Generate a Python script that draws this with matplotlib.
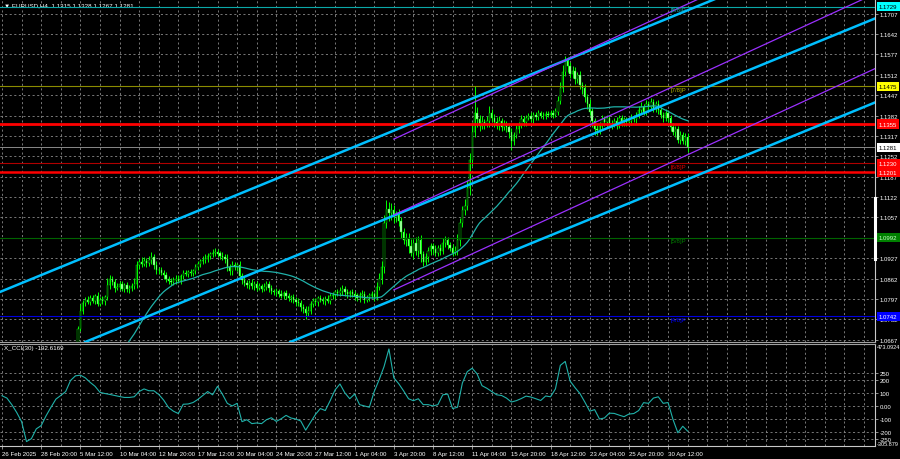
import matplotlib
matplotlib.use("Agg")
import matplotlib.pyplot as plt
import matplotlib.transforms as mtransforms
from matplotlib.ticker import MultipleLocator
import numpy as np
import pandas as pd

plt.rcParams["font.family"] = ["Liberation Sans", "DejaVu Sans"]

# EURUSD H4, first bar 26 Feb 2025 04:00 - closes in pips above 1.0000
close_pips = """
488 492 485 478 484 480 470 460 445 415
402 398 392 386 395 380 375 395 410 430
440 482 486 490 500 522 560 605 620 622
632 702 760 785 795 788 800 792 805 782
795 790 802 840 862 850 832 835 845 830
840 828 832 838 845 905 915 910 918 912
920 930 905 890 888 880 872 862 855 852
858 862 855 870 880 878 882 880 885 900
910 918 922 925 935 940 945 948 942 935
930 925 900 885 905 898 905 870 858 848
840 848 838 845 832 838 830 835 845 832
822 818 822 812 808 815 806 800 802 795
788 785 772 765 752 760 780 790 788 800
795 790 798 792 805 810 818 815 822 830
818 812 818 812 808 800 810 812 795 802
808 812 802 835 860 900 1040 1085 1070 1080
1060 1065 1045 1010 985 990 965 945 975 950
985 940 915 930 950 965 955 945 960 950
975 985 970 960 945 950 985 1040 1080 1095
1150 1240 1330 1390 1370 1350 1360 1355 1365 1390
1375 1360 1350 1365 1345 1355 1345 1330 1300 1320
1340 1350 1370 1360 1375 1380 1370 1385 1378 1390
1382 1380 1388 1385 1390 1385 1395 1430 1470 1520
1555 1540 1515 1525 1500 1510 1480 1470 1440 1420
1395 1365 1340 1335 1350 1370 1360 1375 1350 1355
1365 1350 1375 1360 1370 1360 1365 1375 1370 1385
1400 1410 1395 1420 1410 1425 1405 1420 1400 1385
1375 1390 1375 1345 1330 1340 1305 1320 1300 1315
1281
"""
# wick lengths above / below the body, pips
upper_wick_pips = """
6 8 5 7 6 9 5 8 6 10 8 6 7 9 5 8 6 10 12 8
9 7 10 8 12 15 10 8 9 6 12 8 20 10 8 12 9 10 8 15
7 10 9 24 12 8 10 12 8 10 9 12 8 10 18 14 10 15 12 9
14 18 10 12 8 10 9 12 8 10 8 10 12 8 9 10 7 12 8 10
9 8 12 14 10 8 12 10 8 9 12 10 15 8 14 10 8 12 10 9
10 8 12 9 8 10 7 12 8 10 9 8 10 7 12 8 10 9 7 10
8 12 9 10 8 14 12 10 9 8 10 9 8 12 10 9 8 12 14 10
9 10 8 12 10 8 9 12 10 8 9 10 8 15 20 18 25 27 20 22
18 14 20 15 12 16 18 22 14 20 12 15 10 14 12 10 12 14 10 12
15 12 10 9 12 15 18 14 12 20 25 22 30 86 18 15 20 12 15 22
14 12 18 15 10 12 9 14 12 10 12 10 14 12 9 10 12 8 10 9
8 10 9 8 10 9 12 14 18 22 18 14 12 16 12 10 14 9 12 10
14 10 9 12 10 14 12 9 10 12 10 12 9 10 8 9 10 12 10 9
12 14 9 12 10 14 9 10 12 10 9 12 10 9 12 10 8 12 9 10
13
"""
lower_wick_pips = """
7 6 8 5 9 6 8 7 10 12 9 8 12 7 10 8 9 6 8 10
7 9 6 10 8 12 9 8 10 7 10 15 8 12 9 8 10 7 12 9
8 10 12 8 10 9 12 8 10 9 10 8 12 9 10 12 14 10 8 12
9 10 12 14 10 8 12 10 9 12 10 12 8 9 10 8 12 10 9 8
10 12 8 9 10 12 8 10 12 9 10 12 14 10 12 9 12 10 14 10
8 10 9 12 10 8 12 9 10 12 10 9 12 10 8 12 10 9 12 10
12 10 14 12 19 10 12 9 10 12 9 10 12 8 10 9 12 10 9 12
10 12 9 10 14 10 12 9 10 8 10 9 12 8 10 14 20 18 25 20
22 18 15 20 14 18 22 12 20 14 18 25 12 10 14 12 15 10 12 14
10 12 14 10 12 9 14 18 12 15 14 20 18 15 25 18 12 15 10 18
12 15 10 14 12 10 15 18 28 12 10 12 9 10 12 8 10 12 9 10
8 9 10 8 9 10 8 12 10 14 12 18 14 12 16 14 12 18 14 16
12 18 20 15 12 10 12 14 9 12 10 12 9 10 12 10 9 12 10 12
10 9 12 10 12 9 10 12 14 10 12 10 14 12 10 16 12 14 10 12
14
"""

# X_CCI(30), read every second bar
cci = [78, 60, 10, -50, -120, -272, -250, -175, -150, -75,
       -10, 52, 80, 110, 195, 230, 235, 215, 180, 150,
       104, 95, 88, 80, 72, 65, 65, 70, 110, 130,
       116, 116, 88, 45, -12, -40, -58, 13, 15, 26,
       50, 80, 110, 85, 150, 90, 20, 0, 20, -120,
       -105, -135, -130, -135, -105, -90, -118, -98, -72, -92,
       -100, -115, -185, -125, -65, -20, -35, 40, 122, 168,
       100, 55, 91, 10, 0, -10, 110, 200, 300, 435,
       215, 170, 115, 55, 40, 55, 10, 10, 0, 10,
       85, 91, -20, -10, 175, 262, 288, 245, 155, 135,
       110, 85, 80, 60, 30, 40, 56, 75, 68, 55,
       42, 76, 70, 130, 310, 340, 190, 140, 95, 30,
       -40, -28, -100, -92, -55, -57, -70, -82, -62, -58,
       -35, 25, 20, 60, 70, 20, 26, -103, -205, -155,
       -192.6169]
cci_range = (-305.879, 473.0924)

date_labels = ["26 Feb 2025", "28 Feb 20:00", "5 Mar 12:00", "10 Mar 04:00",
               "12 Mar 20:00", "17 Mar 12:00", "20 Mar 04:00", "24 Mar 20:00",
               "27 Mar 12:00", "1 Apr 04:00", "3 Apr 20:00", "8 Apr 12:00",
               "11 Apr 04:00", "15 Apr 20:00", "18 Apr 12:00", "23 Apr 04:00",
               "25 Apr 20:00", "30 Apr 12:00"]

price_ticks = [1.0667, 1.0732, 1.0797, 1.0862, 1.0927, 1.0992, 1.1057, 1.1122,
               1.1187, 1.1252, 1.1317, 1.1382, 1.1447, 1.1512, 1.1577, 1.1642, 1.1707]
cci_ticks = [250, 200, 100, 0, -100, -200, -250]
cci_tick_labels = ["250", "200", "100", "0.00", "-100", "-200", "-250"]

# horizontal levels on the chart
levels = [1.1729, 1.1475, 1.1355, 1.1281, 1.1230, 1.1201, 1.0992, 1.0742]
murrey_levels = [1.1729, 1.1475, 1.1230, 1.0992, 1.0742]
murrey_names = ["[8/8]P", "[7/8]P", "[6/8]P", "[5/8]P", "[4/8]P"]
murrey_bar = 273

# trend channels: (bar, price) anchors
cyan_bars = (0, 280)
cyan_prices = [(1.0822, 1.1718), (1.0551, 1.1447), (1.0283, 1.1179)]
purple_bars = (160, 280)
purple_prices = [(1.1307, 1.1738), (1.1065, 1.1496), (1.0826, 1.1257)]
scroll_range = (1.0925, 1.1118)

ma_period = 40

# ---------------------------------------------------------------
close = 1 + np.array(close_pips.split(), dtype=float) / 10000
open_ = np.r_[close[0], close[:-1]]
high = np.maximum(open_, close) + np.array(upper_wick_pips.split(), dtype=float) / 10000
low = np.minimum(open_, close) - np.array(lower_wick_pips.split(), dtype=float) / 10000
bars = np.arange(len(close))
ma = pd.Series(close).rolling(ma_period).mean()

W, H = 900, 460
fig = plt.figure(figsize=(9, 4.6), dpi=100, facecolor="black")
ax = fig.add_axes([0, 1 - 343 / H, 875 / W, 343 / H], facecolor="black")
axc = fig.add_axes([0, 1 - 447 / H, 875 / W, 102 / H], facecolor="black", sharex=ax)

gridkw = dict(color="#8a8a8a", linestyle=(0, (2.5, 3)), linewidth=0.6)
for a in (ax, axc):
    a.set_axisbelow(True)
    a.spines["left"].set_visible(False)
    a.spines["right"].set_color("#c8c8c8")
    a.spines["right"].set_linewidth(0.8)
    a.yaxis.tick_right()
    a.tick_params(axis="y", colors="#c8c8c8", labelcolor="white", labelsize=4.3,
                  length=2, width=0.5, pad=1.2)
    a.xaxis.set_minor_locator(MultipleLocator(8))
    a.grid(True, which="both", axis="x", **gridkw)
    a.grid(True, which="major", axis="y", **gridkw)

ax.spines["top"].set_visible(False)
ax.spines["bottom"].set_color("#a0a0a0")
axc.spines["top"].set_color("#a0a0a0")
axc.spines["bottom"].set_color("#c8c8c8")

ax.set_xlim(-0.82, 356.5)
ax.set_ylim(1.06597, 1.17539)
axc.set_ylim(*cci_range)

# candles
ax.vlines(bars, low, high, color="#00ff00", linewidth=0.7, zorder=2)
ax.bar(bars, np.abs(close - open_) + 0.00001, bottom=np.minimum(open_, close), width=0.55,
       color=np.where(close >= open_, "black", "#b8ffb8"), edgecolor="#00ff00",
       linewidth=0.3, zorder=2)
ax.plot(bars, ma, color="#20b2aa", linewidth=0.9, zorder=3)

# horizontal levels
line_styles = [("#0aa8a8", 0.8), ("#8c8c00", 0.8), ("#ff0000", 2.0), ("#a0a0a0", 0.6),
               ("#b00000", 0.8), ("#ff0000", 1.8), ("#006400", 0.8), ("#0000e0", 0.8)]
box_styles = [("#00ffff", "black"), ("#ffff00", "black"), ("#ff0000", "white"),
              ("white", "black"), ("#ff0000", "white"), ("#ff0000", "white"),
              ("#008000", "#c8ffc8"), ("#0000ff", "white")]
tr = mtransforms.blended_transform_factory(ax.transAxes, ax.transData)
for lev, (lc, lw), (bc, tc) in zip(levels, line_styles, box_styles):
    ax.axhline(lev, color=lc, linewidth=lw, zorder=4)
    ax.text(1 + 4 / 875, lev, f"{lev:.4f}", transform=tr, color=tc, fontsize=4.3,
            ha="left", va="center", clip_on=False, zorder=6,
            bbox=dict(boxstyle="square,pad=0.35", fc=bc, ec="none"))

murrey_colors = ["#1aa8a8", "#b4b400", "#e00000", "#008000", "#0000ff"]
for lev, name, col in zip(murrey_levels, murrey_names, murrey_colors):
    ax.text(murrey_bar, lev - 0.0002, name, color=col, fontsize=4.3,
            ha="left", va="top", zorder=5)

# channels
for p0, p1 in cyan_prices:
    ax.axline((cyan_bars[0], p0), (cyan_bars[1], p1), color="#00bfff",
              linewidth=1.8, zorder=4)
xr = ax.get_xlim()[1]
for p0, p1 in purple_prices:
    slope = (p1 - p0) / (purple_bars[1] - purple_bars[0])
    ax.plot([purple_bars[0], xr], [p0, p0 + slope * (xr - purple_bars[0])],
            color="#9b30ff", linewidth=0.9, zorder=4)

ax.plot([1, 1], scroll_range, transform=tr, color="white", linewidth=2.2,
        clip_on=False, zorder=6)

ax.set_yticks(price_ticks)
ax.set_yticklabels([f"{p:.4f}" for p in price_ticks])
ax.tick_params(axis="x", which="both", length=0, labelbottom=False)
ax.text(0.004, 0.984, "\u25bc EURUSD,H4  1.1315 1.1328 1.1267 1.1281",
        transform=ax.transAxes, color="white", fontsize=4.5, va="center")

# CCI panel
axc.plot(bars[::2], cci, color="#20b2aa", linewidth=0.8)
axc.set_yticks(cci_ticks)
axc.set_yticklabels(cci_tick_labels)
trc = mtransforms.blended_transform_factory(axc.transAxes, axc.transData)
axc.text(1 + 1.5 / 875, cci_range[1], f"{cci_range[1]:.4f}", transform=trc,
         color="white", fontsize=4.0, ha="left", va="top", clip_on=False)
axc.text(1 + 1.5 / 875, cci_range[0], f"{cci_range[0]:.3f}", transform=trc,
         color="white", fontsize=4.0, ha="left", va="bottom", clip_on=False)
axc.text(0.004, 0.965, f"X_CCI(30) {cci[-1]:.4f}", transform=axc.transAxes,
         color="white", fontsize=4.5, va="center")

axc.set_xticks(bars[::16][:len(date_labels)])
axc.set_xticklabels(date_labels, ha="left")
axc.tick_params(axis="x", which="major", colors="#c8c8c8", labelcolor="white",
                labelsize=4.4, length=2.5, width=0.5, pad=1)
axc.tick_params(axis="x", which="minor", length=0)

fig.savefig("out.png", dpi=100, facecolor="black")
